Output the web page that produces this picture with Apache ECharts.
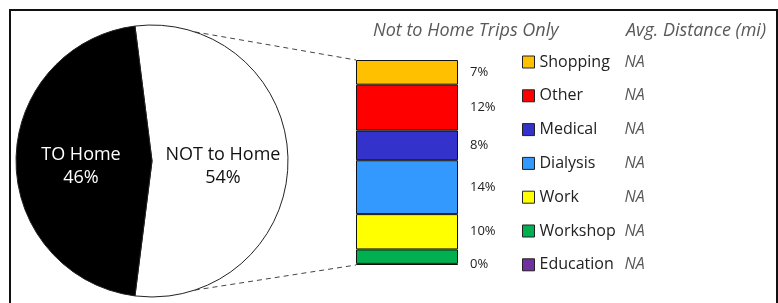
<!DOCTYPE html>
<html>
<head>
<meta charset="utf-8">
<script src="https://cdn.jsdelivr.net/npm/echarts@6/dist/echarts.min.js"></script>
<style>
html, body { margin: 0; padding: 0; background: #fff; }
#main { width: 778px; height: 303px; }
</style>
</head>
<body>
<div id="main"></div>
<script>
// data
var homeNames = ['NOT to Home', 'TO Home'];
var homeShares = [54, 46];

var purposes = ['Shopping', 'Other', 'Medical', 'Dialysis', 'Work', 'Workshop', 'Education'];
var purposeShares = [6.5, 12.1, 7.8, 14.2, 9.3, 3.8, 0.3];
var shareLabels = ['7%', '12%', '8%', '14%', '10%', '', '0%'];
var avgDistance = ['NA', 'NA', 'NA', 'NA', 'NA', 'NA', 'NA'];

var purposeColors = ['#FFC000', '#FF0000', '#3333CC', '#3399FF', '#FFFF00', '#00B050', '#7030A0'];
var homeColors = ['#ffffff', '#000000'];
var homeLabelColors = ['#111111', '#ffffff'];

var font = '"Open Sans", "Noto Sans", sans-serif';

// layout
var pieX = 152, pieY = 161, pieR = 136;
var barLeft = 356, barTop = 60, barW = 102, barH = 205;
var linkAngle = 18.3 * Math.PI / 180;

var chart = echarts.init(document.getElementById('main'));

var total = purposeShares.reduce(function (a, b) { return a + b; }, 0);

var barSeries = [];
for (var i = purposes.length - 1; i >= 0; i--) {
    barSeries.push({
        name: purposes[i],
        type: 'bar',
        stack: 'trips',
        xAxisIndex: 0,
        yAxisIndex: 0,
        barWidth: '100%',
        data: [purposeShares[i]],
        itemStyle: { color: purposeColors[i], borderColor: '#111', borderWidth: 1 },
        label: {
            show: shareLabels[i] !== '',
            position: 'right',
            distance: 12,
            formatter: shareLabels[i],
            fontFamily: font,
            fontSize: 13,
            color: '#222'
        },
        emphasis: { disabled: true }
    });
}

var titleStyle = { fontFamily: font, fontStyle: 'italic', fontWeight: 'normal', fontSize: 18, color: '#595959' };

var option = {
    animation: false,
    title: [
        { text: 'Not to Home Trips Only', left: 373, top: 22, padding: 0, textStyle: titleStyle },
        { text: 'Avg. Distance (mi)', left: 626, top: 22, padding: 0, textStyle: titleStyle }
    ],
    legend: {
        data: purposes,
        orient: 'vertical',
        left: 522,
        top: 54,
        padding: 0,
        icon: 'rect',
        itemWidth: 12,
        itemHeight: 12,
        itemGap: 17.8,
        selectedMode: false,
        itemStyle: { borderColor: '#222', borderWidth: 1 },
        formatter: function (name) {
            var k = purposes.indexOf(name);
            return '{n|' + name + '}{d|' + avgDistance[k] + '}';
        },
        textStyle: {
            fontFamily: font,
            fontSize: 16,
            color: '#222',
            rich: {
                n: { width: 85, fontFamily: font, fontSize: 16, color: '#222' },
                d: { fontFamily: font, fontSize: 16, fontStyle: 'italic', color: '#595959' }
            }
        }
    },
    grid: { left: barLeft, top: barTop, width: barW, height: barH },
    xAxis: { type: 'category', data: ['Not to Home'], show: false },
    yAxis: { type: 'value', min: 0, max: total, show: false },
    graphic: [
        {
            type: 'rect',
            shape: { x: 10, y: 10, width: 767, height: 320 },
            style: { fill: 'none', stroke: '#111', lineWidth: 2 },
            silent: true
        },
        {
            type: 'line',
            shape: {
                x1: pieX + pieR * Math.sin(linkAngle), y1: pieY - pieR * Math.cos(linkAngle),
                x2: barLeft, y2: barTop
            },
            style: { stroke: '#444', lineWidth: 1, lineDash: [5, 4] },
            silent: true
        },
        {
            type: 'line',
            shape: {
                x1: pieX + pieR * Math.sin(linkAngle), y1: pieY + pieR * Math.cos(linkAngle),
                x2: barLeft, y2: barTop + barH
            },
            style: { stroke: '#444', lineWidth: 1, lineDash: [5, 4] },
            silent: true
        }
    ],
    series: [
        {
            type: 'pie',
            center: [pieX, pieY],
            radius: pieR,
            startAngle: 90 + (homeShares[0] / 100 * 360 - 180) / 2,
            clockwise: true,
            emphasis: { disabled: true },
            itemStyle: { borderColor: '#222', borderWidth: 1 },
            label: {
                show: true,
                position: 'inside',
                formatter: '{s| }\n{t|{b}}\n{t|{d}%}',
                fontFamily: font,
                fontSize: 18,
                rich: {
                    s: { fontSize: 8, lineHeight: 11 },
                    t: { fontFamily: font, fontSize: 18, lineHeight: 23 }
                }
            },
            labelLine: { show: false },
            data: homeNames.map(function (n, k) {
                return {
                    name: n,
                    value: homeShares[k],
                    itemStyle: { color: homeColors[k] },
                    label: { color: homeLabelColors[k] }
                };
            })
        }
    ].concat(barSeries)
};

chart.setOption(option);
</script>
</body>
</html>
